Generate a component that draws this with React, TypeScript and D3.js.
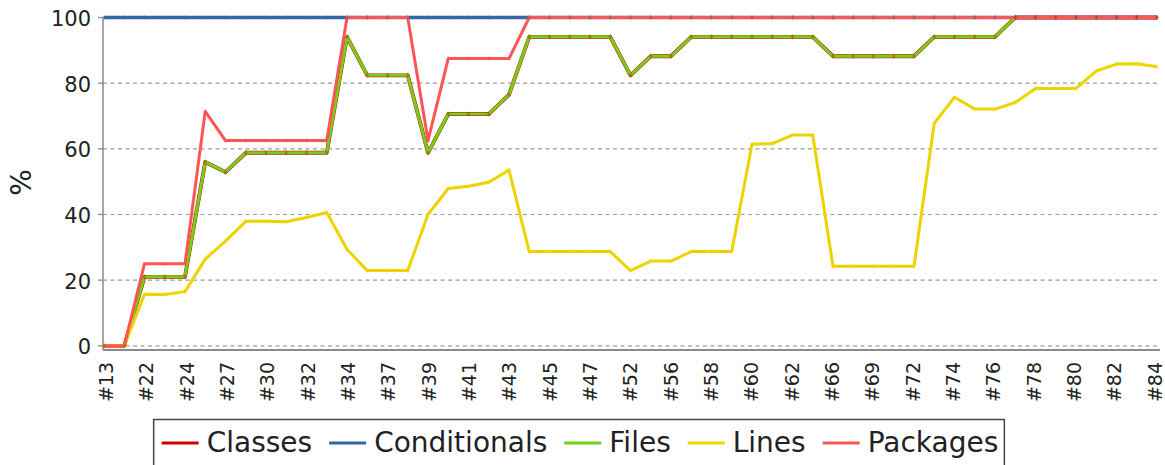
import React, { useEffect, useRef } from 'react';
import * as d3 from 'd3';

// build labels (only every other one is printed on the axis)
const BUILDS = [
  '#13', '#21', '#22', '#23', '#24', '#26', '#27', '#28', '#30', '#31', '#32', '#33', '#34',
  '#36', '#37', '#38', '#39', '#40', '#41', '#42', '#43', '#44', '#45', '#46', '#47', '#50',
  '#52', '#54', '#56', '#57', '#58', '#59', '#60', '#61', '#62', '#64', '#66', '#67', '#69',
  '#70', '#72', '#73', '#74', '#75', '#76', '#77', '#78', '#79', '#80', '#81', '#82', '#83', '#84',
];

const CLASSES = [
  0, 0, 21, 21, 21, 56, 52.9, 58.8, 58.8, 58.8, 58.8, 58.8, 94.1,
  82.4, 82.4, 82.4, 58.8, 70.6, 70.6, 70.6, 76.5, 94.1, 94.1, 94.1, 94.1, 94.1,
  82.4, 88.2, 88.2, 94.1, 94.1, 94.1, 94.1, 94.1, 94.1, 94.1, 88.2, 88.2, 88.2,
  88.2, 88.2, 94.1, 94.1, 94.1, 94.1, 100, 100, 100, 100, 100, 100, 100, 100,
];

const CONDITIONALS = [
  100, 100, 100, 100, 100, 100, 100, 100, 100, 100, 100, 100, 100,
  100, 100, 100, 100, 100, 100, 100, 100, 100, 100, 100, 100, 100,
  100, 100, 100, 100, 100, 100, 100, 100, 100, 100, 100, 100, 100,
  100, 100, 100, 100, 100, 100, 100, 100, 100, 100, 100, 100, 100, 100,
];

const FILES = [
  0, 0, 21, 21, 21, 56, 52.9, 58.8, 58.8, 58.8, 58.8, 58.8, 94.1,
  82.4, 82.4, 82.4, 58.8, 70.6, 70.6, 70.6, 76.5, 94.1, 94.1, 94.1, 94.1, 94.1,
  82.4, 88.2, 88.2, 94.1, 94.1, 94.1, 94.1, 94.1, 94.1, 94.1, 88.2, 88.2, 88.2,
  88.2, 88.2, 94.1, 94.1, 94.1, 94.1, 100, 100, 100, 100, 100, 100, 100, 100,
];

const LINES = [
  0, 0, 15.7, 15.6, 16.5, 26.4, 31.9, 37.9, 37.9, 37.8, 39.1, 40.6, 29.4,
  22.9, 22.9, 22.9, 40.0, 47.9, 48.6, 49.8, 53.5, 28.7, 28.7, 28.7, 28.7, 28.7,
  22.9, 25.8, 25.8, 28.7, 28.7, 28.7, 61.4, 61.6, 64.2, 64.2, 24.2, 24.2, 24.2,
  24.2, 24.2, 67.8, 75.7, 72.1, 72.1, 74.1, 78.4, 78.4, 78.4, 83.7, 85.8, 85.9, 85.0,
];

const PACKAGES = [
  0, 0, 25, 25, 25, 71.4, 62.5, 62.5, 62.5, 62.5, 62.5, 62.5, 100,
  100, 100, 100, 62.5, 87.5, 87.5, 87.5, 87.5, 100, 100, 100, 100, 100,
  100, 100, 100, 100, 100, 100, 100, 100, 100, 100, 100, 100, 100,
  100, 100, 100, 100, 100, 100, 100, 100, 100, 100, 100, 100, 100, 100,
];

const SERIES_NAMES = ['Classes', 'Conditionals', 'Files', 'Lines', 'Packages'];
const SERIES_VALUES = [CLASSES, CONDITIONALS, FILES, LINES, PACKAGES];
const SERIES_COLORS = ['#cc0000', '#3465a4', '#73d216', '#edd400', '#ff5555'];

const Y_TICKS = [0, 20, 40, 60, 80, 100];

const App: React.FC = () => {
  const svgRef = useRef<SVGSVGElement>(null);

  useEffect(() => {
    if (!svgRef.current) return;
    document.body.style.margin = '0';

    const width = 1165;
    const height = 465;
    const left = 103;
    const right = 1158;
    const bottom = 350;

    const svg = d3.select(svgRef.current)
      .attr('width', width)
      .attr('height', height)
      .html('');

    svg.append('rect').attr('width', width).attr('height', height).attr('fill', '#fff');

    const x = d3.scalePoint<string>().domain(BUILDS).range([104, 1157]);
    // tick labels sit a little inside the category positions
    const xLabel = d3.scalePoint<string>().domain(BUILDS).range([106.4, 1155]);
    const y = d3.scaleLinear().domain([0, 100]).range([345.8, 17.5]);

    // grid
    svg.append('g')
      .selectAll('line')
      .data(Y_TICKS)
      .enter()
      .append('line')
      .attr('x1', left)
      .attr('x2', right)
      .attr('y1', d => y(d))
      .attr('y2', d => y(d))
      .attr('stroke', '#9a9a9a')
      .attr('stroke-width', 1.2)
      .attr('stroke-dasharray', '4,3.5');

    // axes lines
    svg.append('line')
      .attr('x1', left).attr('x2', left)
      .attr('y1', y(100)).attr('y2', bottom)
      .attr('stroke', '#8a8a8a').attr('stroke-width', 1.5);
    svg.append('line')
      .attr('x1', left).attr('x2', 1160)
      .attr('y1', bottom).attr('y2', bottom)
      .attr('stroke', '#8a8a8a').attr('stroke-width', 1.8);

    // y axis ticks + labels
    const yAxis = svg.append('g');
    yAxis.selectAll('line')
      .data(Y_TICKS)
      .enter()
      .append('line')
      .attr('x1', left - 5).attr('x2', left)
      .attr('y1', d => y(d)).attr('y2', d => y(d))
      .attr('stroke', '#8a8a8a').attr('stroke-width', 1.3);
    yAxis.selectAll('text')
      .data(Y_TICKS)
      .enter()
      .append('text')
      .attr('x', 91)
      .attr('y', d => y(d) + 8.5)
      .attr('text-anchor', 'end')
      .attr('font-size', '21px')
      .attr('fill', '#222')
      .text(d => d);

    svg.append('text')
      .attr('transform', 'translate(30.7,182.5) rotate(-90)')
      .attr('text-anchor', 'middle')
      .attr('font-size', '28px')
      .attr('fill', '#222')
      .text('%');

    // x labels
    svg.append('g')
      .selectAll('text')
      .data(BUILDS.filter((_, i) => i % 2 === 0))
      .enter()
      .append('text')
      .attr('transform', d => `translate(${(xLabel(d) as number) + 6.6},362) rotate(-90)`)
      .attr('text-anchor', 'end')
      .attr('font-size', '19px')
      .attr('fill', '#222')
      .text(d => d);

    // series lines
    const line = d3.line<number>()
      .x((_, i) => x(BUILDS[i]) as number)
      .y(d => y(d));

    const widths = [3.8, 3.4, 3, 3, 3];
    SERIES_VALUES.forEach((vals, s) => {
      svg.append('path')
        .attr('d', line(vals))
        .attr('fill', 'none')
        .attr('stroke', SERIES_COLORS[s])
        .attr('stroke-width', widths[s])
        .attr('stroke-linejoin', 'round');
    });

    // small shapes, drawn after all lines
    const diamond = d3.symbol().type(d3.symbolDiamond).size(9);
    SERIES_VALUES.slice().reverse().forEach((vals, r) => {
      const s = SERIES_VALUES.length - 1 - r;
      svg.append('g')
        .selectAll('path')
        .data(vals)
        .enter()
        .append('path')
        .attr('d', diamond)
        .attr('transform', (d, i) => `translate(${x(BUILDS[i])},${y(d)})`)
        .attr('fill', SERIES_COLORS[s])
        .attr('opacity', 0.4);
    });

    // legend
    const legend = svg.append('g');
    const box = legend.append('rect')
      .attr('y', 419.5)
      .attr('height', 60)
      .attr('fill', '#fff')
      .attr('stroke', '#444')
      .attr('stroke-width', 1.5);

    let cursor = 0;
    const items = legend.append('g');
    SERIES_NAMES.forEach((name, s) => {
      items.append('line')
        .attr('x1', cursor).attr('x2', cursor + 37)
        .attr('y1', 443).attr('y2', 443)
        .attr('stroke', SERIES_COLORS[s])
        .attr('stroke-width', 3.2);
      const t = items.append('text')
        .attr('x', cursor + 45)
        .attr('y', 452)
        .attr('font-size', '28px')
        .attr('fill', '#222')
        .text(name);
      const w = (t.node() as SVGTextElement).getComputedTextLength();
      cursor += 45 + w + (s < SERIES_NAMES.length - 1 ? 17 : 0);
    });
    const boxW = cursor + 8 + 6;
    const boxX = 579 - boxW / 2;
    box.attr('x', boxX).attr('width', boxW);
    items.attr('transform', `translate(${boxX + 8},0)`);
  }, []);

  return (
    <svg
      ref={svgRef}
      style={{ position: 'absolute', left: 0, top: 0, fontFamily: '"DejaVu Sans", sans-serif' }}
    />
  );
};

export default App;
